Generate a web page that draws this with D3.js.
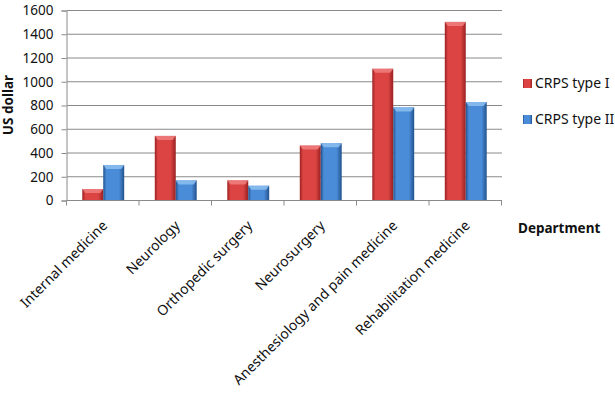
<!DOCTYPE html>
<html>
<head>
<meta charset="utf-8">
<script src="https://cdn.jsdelivr.net/npm/d3@7"></script>
<style>
  body { margin: 0; background: #fff; }
  svg { display: block; font-family: "Noto Sans", sans-serif; }
</style>
</head>
<body>
<div id="chart"></div>
<script>
// data
const departments = ["Internal medicine", "Neurology", "Orthopedic surgery", "Neurosurgery", "Anesthesiology and pain medicine", "Rehabilitation medicine"];
const seriesNames = ["CRPS type I", "CRPS type II"];
const type1 = [92, 540, 165, 458, 1105, 1500];
const type2 = [295, 165, 120, 478, 780, 825];
const yTicks = [0, 200, 400, 600, 800, 1000, 1200, 1400, 1600];

const width = 615, height = 394;
const margin = {top: 10, left: 67, right: 113, bottom: 194};

const svg = d3.select("#chart").append("svg")
    .attr("width", width)
    .attr("height", height);

// gradients for the bevelled bars
const defs = svg.append("defs");
const looks = [
    {id: "g0", edge: "#9a2020", mid: "#dc4444", top: "#f08080"},
    {id: "g1", edge: "#22528c", mid: "#4a8cd8", top: "#8cc0f0"}
];
looks.forEach(l => {
    const g = defs.append("linearGradient").attr("id", l.id)
        .attr("x1", "0%").attr("x2", "100%").attr("y1", "0%").attr("y2", "0%");
    g.append("stop").attr("offset", "0%").attr("stop-color", l.edge);
    g.append("stop").attr("offset", "15%").attr("stop-color", l.mid);
    g.append("stop").attr("offset", "75%").attr("stop-color", l.mid);
    g.append("stop").attr("offset", "100%").attr("stop-color", l.edge);
});

const x0 = d3.scaleBand()
    .domain(departments)
    .range([margin.left, width - margin.right]);

const x1 = d3.scaleBand()
    .domain(seriesNames)
    .range([0, x0.bandwidth()])
    .paddingOuter(0.73);

const y = d3.scaleLinear()
    .domain([0, 1600])
    .range([height - margin.bottom, margin.top]);

// grid lines
svg.append("g")
    .selectAll("line")
    .data(yTicks.slice(1))
    .enter().append("line")
    .attr("x1", margin.left).attr("x2", width - margin.right)
    .attr("y1", d => y(d) + 0.5).attr("y2", d => y(d) + 0.5)
    .attr("stroke", "#8a8a8a");

// y axis
const yAxis = svg.append("g")
    .attr("transform", "translate(" + (margin.left - 0.5) + ",0.5)")
    .call(d3.axisLeft(y).tickValues(yTicks).tickFormat(d3.format("d")).tickSize(5).tickPadding(8));
yAxis.selectAll("line, path").attr("stroke", "#8a8a8a");
yAxis.selectAll("text").attr("font-size", "13.5px").attr("fill", "#111").attr("font-family", "Noto Sans");

// bars
const rows = departments.map((d, i) => ({dep: d, vals: [type1[i], type2[i]]}));
const groups = svg.append("g").selectAll("g")
    .data(rows)
    .enter().append("g")
    .attr("transform", d => "translate(" + x0(d.dep) + ",0)");

groups.selectAll("rect.bar")
    .data(d => d.vals.map((v, k) => ({k: k, v: v})))
    .enter().append("rect")
    .attr("class", "bar")
    .attr("x", d => x1(seriesNames[d.k]))
    .attr("y", d => y(d.v))
    .attr("width", x1.bandwidth())
    .attr("height", d => y(0) - y(d.v))
    .attr("fill", d => "url(#g" + d.k + ")");

// light top bevel
groups.selectAll("path.cap")
    .data(d => d.vals.map((v, k) => ({k: k, v: v})))
    .enter().append("path")
    .attr("class", "cap")
    .attr("d", d => {
        const bx = x1(seriesNames[d.k]), bw = x1.bandwidth(), by = y(d.v);
        return "M" + bx + "," + by + "H" + (bx + bw) + "L" + (bx + bw - 3) + "," + (by + 4) + "H" + (bx + 3) + "Z";
    })
    .attr("fill", d => looks[d.k].top)
    .attr("opacity", 0.85);

// x axis
const xAxis = svg.append("g")
    .attr("transform", "translate(0," + (y(0) + 0.5) + ")");
xAxis.append("line")
    .attr("x1", margin.left - 0.5).attr("x2", width - margin.right)
    .attr("stroke", "#8a8a8a");
xAxis.selectAll("line.tick")
    .data(departments.concat([null]))
    .enter().append("line")
    .attr("class", "tick")
    .attr("x1", (d, i) => (i < departments.length ? x0(d) : x0.range()[1]) - 0.5)
    .attr("x2", (d, i) => (i < departments.length ? x0(d) : x0.range()[1]) - 0.5)
    .attr("y1", 0).attr("y2", 5)
    .attr("stroke", "#8a8a8a");

xAxis.selectAll("text")
    .data(departments)
    .enter().append("text")
    .attr("transform", d => "translate(" + (x0(d) + x0.bandwidth() / 2 + 5) + ",26) rotate(-45)")
    .attr("text-anchor", "end")
    .attr("font-size", "14px")
    .attr("fill", "#111")
    .text(d => d);

// axis titles
svg.append("text")
    .attr("transform", "translate(13,105) rotate(-90)")
    .attr("text-anchor", "middle")
    .attr("font-size", "13.5px")
    .attr("font-weight", "bold")
    .attr("fill", "#111")
    .text("US dollar");

svg.append("text")
    .attr("x", 518).attr("y", 233)
    .attr("font-size", "13.5px")
    .attr("font-weight", "bold")
    .attr("fill", "#111")
    .text("Department");

// legend
const legend = svg.append("g").selectAll("g")
    .data(seriesNames)
    .enter().append("g")
    .attr("transform", (d, i) => "translate(523," + (79 + i * 36) + ")");
legend.append("rect")
    .attr("width", 9).attr("height", 9)
    .attr("fill", (d, i) => "url(#g" + i + ")");
legend.append("text")
    .attr("x", 12).attr("y", 9)
    .attr("font-size", "14px")
    .attr("fill", "#111")
    .text(d => d);
</script>
</body>
</html>
